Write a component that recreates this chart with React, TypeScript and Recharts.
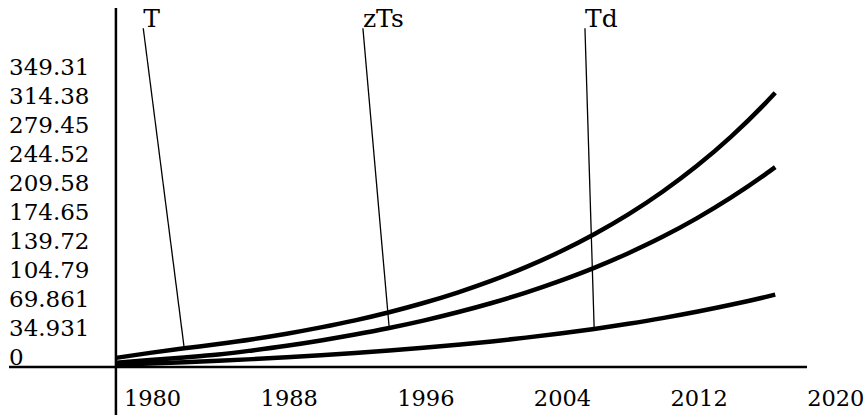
import { LineChart, Line, XAxis, YAxis, ReferenceLine, ReferenceDot } from "recharts";

const years = [
  1980, 1982, 1984, 1986, 1988, 1990, 1992, 1994, 1996, 1998, 2000, 2002, 2004, 2006, 2008, 2010, 2012,
  2014, 2016, 2018, 2018.6,
];
const tValues = [11, 17, 22.5, 27.7, 33.5, 40.1, 47.7, 56.2, 66, 77.1, 89.7, 104, 120.3, 138.8, 159.9, 183.8, 211.1, 242, 277.2, 317.2, 330.3];
const zTsValues = [5, 8.5, 11.5, 15, 20, 25.6, 32, 39.1, 47, 55.9, 65.9, 77.1, 89.6, 103.7, 119.4, 137.1, 156.8, 179, 203.9, 231.7, 240.7];
const tdValues = [2.7, 4.1, 5.7, 7.5, 9.5, 11.7, 14.1, 16.8, 19.8, 23.1, 26.8, 30.8, 35.4, 40.4, 45.9, 52.1, 58.9, 66.5, 74.9, 84.2, 87.2];

const xTicks = [1980, 1988, 1996, 2004, 2012, 2020];
const yTickValues = [0, 34.931, 69.861, 104.79, 139.72, 174.65, 209.58, 244.52, 279.45, 314.38, 349.31];
const yTickLabels = ["0", "34.931", "69.861", "104.79", "139.72", "174.65", "209.58", "244.52", "279.45", "314.38", "349.31"];

// curve labels: where the text sits, and which point of the curve the leader points at
const seriesKeys = ["T", "zTs", "Td"];
const labelYears = [1981.6, 1994.46, 2007.46];
const labelTop = 408;
const targetYears = [1984, 1996, 2008];

const data = years.map((year, i) => ({
  year,
  T: tValues[i],
  zTs: zTsValues[i],
  Td: tdValues[i],
}));

const textStyle = { fontFamily: "DejaVu Serif", fontSize: 22.5 };

const renderXTick = (props: any) => {
  const { x, payload } = props;
  return (
    <text x={x + 8} y={406} textAnchor="start" style={textStyle} fill="#000">
      {payload.value}
    </text>
  );
};

const renderYTick = (props: any) => {
  const { y, index } = props;
  return (
    <text x={9} y={y - 2} textAnchor="start" style={{ ...textStyle, fontSize: 23 }} fill="#000">
      {yTickLabels[index]}
    </text>
  );
};

export default function App() {
  return (
    <div style={{ position: "absolute", left: 0, top: 0, width: 866, height: 416, background: "#fff" }}>
      <LineChart width={866} height={416} data={data} margin={{ top: 8, right: 59, bottom: 0, left: 8 }}>
        <XAxis
          dataKey="year"
          type="number"
          domain={[1973.74, 2020.46]}
          ticks={xTicks}
          interval={0}
          allowDataOverflow
          axisLine={false}
          tickLine={false}
          height={1}
          tick={renderXTick}
        />
        <YAxis
          type="number"
          domain={[-57.8, 432.4]}
          ticks={yTickValues}
          interval={0}
          allowDataOverflow
          axisLine={false}
          tickLine={false}
          width={1}
          tick={renderYTick}
        />
        <ReferenceLine y={0} stroke="#000" strokeWidth={2.5} />
        <ReferenceLine x={1980} stroke="#000" strokeWidth={2.5} />
        {seriesKeys.map((key) => (
          <Line
            key={key}
            dataKey={key}
            type="monotone"
            stroke="#000"
            strokeWidth={4.5}
            dot={false}
            isAnimationActive={false}
          />
        ))}
        {seriesKeys.map((key, i) => {
          const point = data.find((d) => d.year === targetYears[i]) as any;
          return (
            <ReferenceLine
              key={"lead-" + key}
              segment={[
                { x: labelYears[i], y: labelTop },
                { x: targetYears[i], y: point[key] },
              ]}
              stroke="#000"
              strokeWidth={1.3}
            />
          );
        })}
        {seriesKeys.map((key, i) => (
          <ReferenceDot
            key={"label-" + key}
            x={labelYears[i]}
            y={labelTop}
            r={0}
            shape={(p: any) => (
              <text x={p.cx} y={p.cy - 1} textAnchor="start" style={{ ...textStyle, fontSize: 25 }} fill="#000">
                {key}
              </text>
            )}
          />
        ))}
      </LineChart>
    </div>
  );
}
